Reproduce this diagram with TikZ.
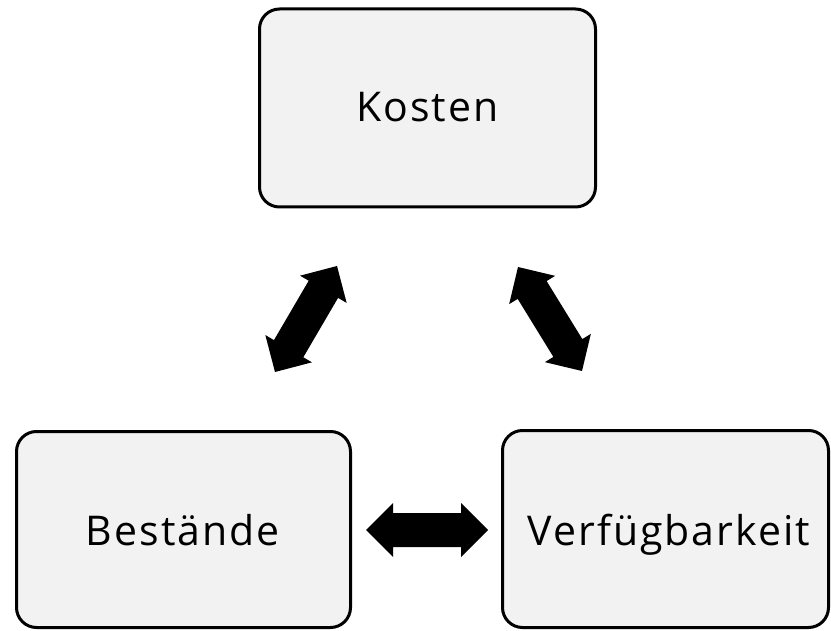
\documentclass[tikz,border=0pt]{standalone}
\usepackage{fontspec}
\setmainfont{Open Sans}[LetterSpace=5]
\usetikzlibrary{calc}
\definecolor{boxfill}{HTML}{F2F2F2}
\tikzset{
  box/.style={draw=black, line width=3pt, fill=boxfill, rounded corners=20pt,
    inner sep=0pt, outer sep=0pt},
  label/.style={font=\fontsize{41}{48}\selectfont, anchor=base, inner sep=0pt},
  blockarrow/.style={fill=black, draw=none}
}
\newcommand{\blkarrow}[2]{%
  \fill[blockarrow]
    (#1)
    -- ($($(#1)!27pt!(#2)$)!27pt!90:(#2)$)
    -- ($($(#1)!27pt!(#2)$)!17pt!90:(#2)$)
    -- ($($(#2)!27pt!(#1)$)!17pt!-90:(#1)$)
    -- ($($(#2)!27pt!(#1)$)!27pt!-90:(#1)$)
    -- (#2)
    -- ($($(#2)!27pt!(#1)$)!27pt!90:(#1)$)
    -- ($($(#2)!27pt!(#1)$)!17pt!90:(#1)$)
    -- ($($(#1)!27pt!(#2)$)!17pt!-90:(#2)$)
    -- ($($(#1)!27pt!(#2)$)!27pt!-90:(#2)$)
    -- cycle;}
\begin{document}
\begin{tikzpicture}[x=1pt,y=-1pt]
  \useasboundingbox (0,0) rectangle (831,631);
  \node[box, minimum width=336pt, minimum height=198pt] (kosten) at (427.5,108) {};
  \node[box, minimum width=334pt, minimum height=196pt] (bestaende) at (183.5,529.5) {};
  \node[box, minimum width=326pt, minimum height=197pt] (verf) at (665.5,529) {};
  \node[label] (tk) at (427.5,122) {Kosten};
  \node[label] (tb) at (183,545) {Bestände};
  \node[label] (tv) at (669,545) {Verfügbarkeit};
  % arrow end points
  \coordinate (a1) at (275,372);
  \coordinate (a2) at (337,266);
  \coordinate (b1) at (518,267);
  \coordinate (b2) at (582,371);
  \coordinate (c1) at (366,530);
  \coordinate (c2) at (488,530);
  \blkarrow{a1}{a2}
  \blkarrow{b1}{b2}
  \blkarrow{c1}{c2}
\end{tikzpicture}
\end{document}
